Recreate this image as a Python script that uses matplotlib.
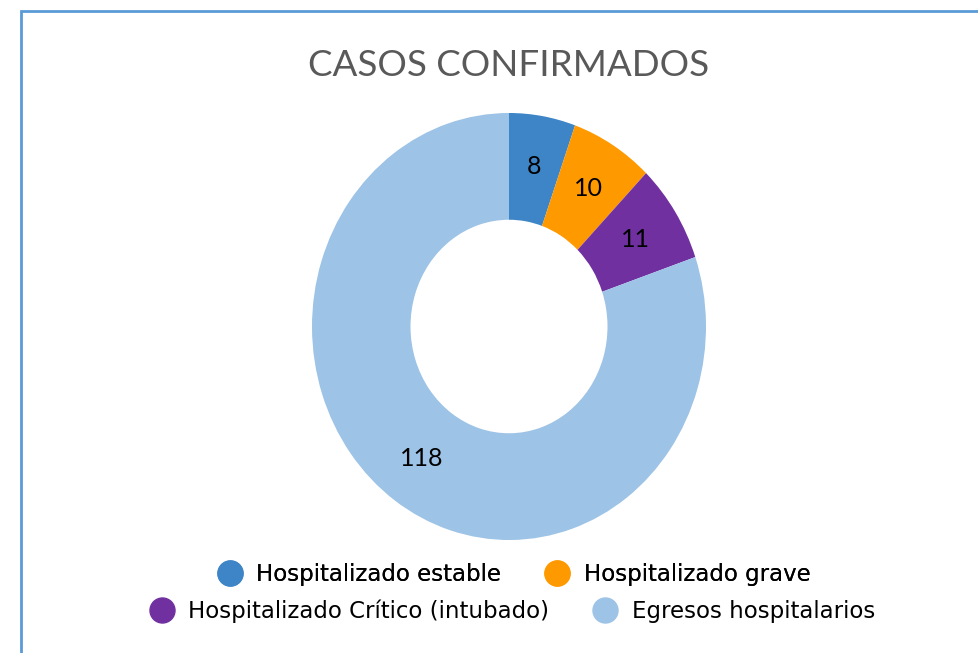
import matplotlib.pyplot as plt
from matplotlib.lines import Line2D
from matplotlib.patches import Rectangle

# Datos
categorias = ["Hospitalizado estable", "Hospitalizado grave",
              "Hospitalizado Crítico (intubado)", "Egresos hospitalarios"]
casos = [8, 10, 11, 118]
colores = ["#3D85C6", "#FF9900", "#7030A0", "#9DC3E6"]
titulo = "CASOS CONFIRMADOS"

plt.rcParams['font.family'] = ['Lato', 'DejaVu Sans']

W, H = 979, 653
fig = plt.figure(figsize=(W / 100, H / 100), dpi=100)

# marco azul (cortado a la derecha y abajo)
fig.patches.append(Rectangle((21 / W, -0.05), 1.1, (H - 11) / H + 0.05,
                             transform=fig.transFigure, fill=False,
                             edgecolor="#5B9BD5", linewidth=2))

# ejes del donut (ligeramente elíptico como en la imagen)
ax = fig.add_axes([312 / W, (H - 540) / H, 394 / W, 427 / H])
total = sum(casos)
wedges, textos, autotextos = ax.pie(
    casos, colors=colores, startangle=90, counterclock=False,
    wedgeprops=dict(width=0.5, linewidth=0),
    autopct=lambda p: "{:d}".format(int(round(p * total / 100))),
    pctdistance=0.76, textprops=dict(fontsize=18, color="black"))
ax.set_aspect('auto')
ax.set_xlim(-1, 1)
ax.set_ylim(-1, 1)

fig.text(509 / W, 1 - 65 / H, titulo, ha="center", va="center",
         fontsize=26.5, color="#595959")

# leyenda en dos filas centradas
def marcador(c):
    return Line2D([], [], marker="o", linestyle="", markersize=18,
                  markerfacecolor=c, markeredgecolor=c)

estilo_leyenda = dict(loc="center", ncol=2, frameon=False,
                      prop=dict(family="DejaVu Sans", size=16.5),
                      handletextpad=0.6, columnspacing=1.9, handlelength=1.1)
leg1 = fig.legend([marcador(colores[0]), marcador(colores[1])], categorias[:2],
                  bbox_to_anchor=(514 / W, 1 - 575 / H), **estilo_leyenda)
fig.legend([marcador(colores[2]), marcador(colores[3])], categorias[2:],
           bbox_to_anchor=(512 / W, 1 - 611 / H), **estilo_leyenda)
fig.add_artist(leg1)

fig.savefig("out.png", dpi=100)
